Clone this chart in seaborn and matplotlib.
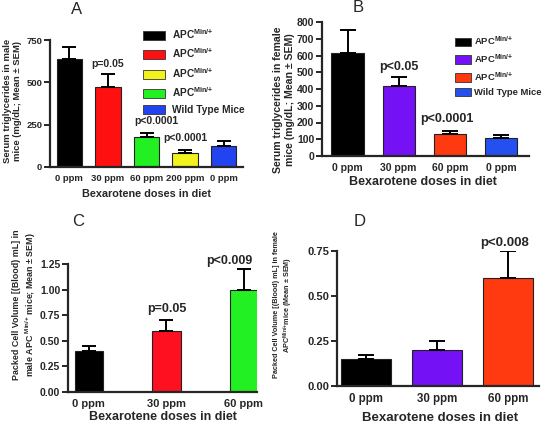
import numpy as np
import pandas as pd
import matplotlib
matplotlib.use("Agg")
import matplotlib.pyplot as plt
from matplotlib.patches import Patch
import seaborn as sns

# ---- data ----
# A: serum triglycerides, male mice
a_groups = ["APC 0", "APC 30", "APC 60", "APC 200", "WT 0"]
a_doses = ["0 ppm", "30 ppm", "60 ppm", "200 ppm", "0 ppm"]
a_mean = [637, 474, 176, 80, 125]
a_sem = [74, 73, 22, 23, 26]
a_colors = ["#000000", "#ff1010", "#22f022", "#f2f21e", "#2443f0"]

# B: serum triglycerides, female mice
b_groups = ["APC 0", "APC 30", "APC 60", "WT 0"]
b_doses = ["0 ppm", "30 ppm", "60 ppm", "0 ppm"]
b_mean = [617, 417, 130, 110]
b_sem = [138, 55, 21, 16]
b_colors = ["#000000", "#7412f5", "#ff3a10", "#2450f0"]

# C: packed cell volume, male
c_doses = ["0 ppm", "30 ppm", "60 ppm"]
c_mean = [0.40, 0.60, 1.00]
c_sem = [0.05, 0.10, 0.20]
c_colors = ["#000000", "#ff1020", "#22f022"]

# D: packed cell volume, female
d_doses = ["0 ppm", "30 ppm", "60 ppm"]
d_mean = [0.15, 0.20, 0.60]
d_sem = [0.022, 0.052, 0.15]
d_colors = ["#000000", "#7412f5", "#ff3a10"]

sns.set_theme(style="ticks")
plt.rcParams['font.family'] = ['Liberation Sans', 'DejaVu Sans']
plt.rcParams['axes.linewidth'] = 1.6
plt.rcParams['mathtext.fontset'] = 'custom'
plt.rcParams['mathtext.rm'] = 'Liberation Sans:bold'
plt.rcParams['mathtext.bf'] = 'Liberation Sans:bold'
plt.rcParams['mathtext.it'] = 'Liberation Sans:bold'

fig = plt.figure(figsize=(5.44, 4.25), dpi=100)


def px_axes(l, t, r, b):
    W, H = 544, 425
    return fig.add_axes([l / W, 1 - b / H, (r - l) / W, (b - t) / H])


def bar_panel(ax, groups, labels, mean, sem, colors, width, capsize, tsize):
    df = pd.DataFrame({"group": groups, "mean": mean})
    sns.barplot(data=df, x="group", y="mean", hue="group", order=groups,
                palette=dict(zip(groups, colors)), width=width, saturation=1,
                edgecolor="#222222", linewidth=0.8, legend=False, ax=ax)
    ax.errorbar(np.arange(len(groups)), mean, yerr=[np.zeros(len(sem)), sem],
                fmt="none", ecolor="black", elinewidth=1.4,
                capsize=capsize, capthick=1.4, zorder=1)
    ax.set_xticks(range(len(groups)))
    ax.set_xticklabels(labels, fontweight="bold", fontsize=tsize)
    for t in ax.get_yticklabels():
        t.set_fontweight("bold")
        t.set_fontsize(tsize)
    ax.tick_params(axis="x", length=0, pad=5)
    ax.tick_params(axis="y", length=4, width=1.4, pad=1.5)
    sns.despine(ax=ax)


apc = "APC$^{Min/{+}}$"

# ---- panel A ----
axA = px_axes(50, 40, 243, 167)
bar_panel(axA, a_groups, a_doses, a_mean, a_sem, a_colors, 0.66, 5, 6.8)
axA.set_ylim(0, 750)
axA.set_xlim(-0.5, 4.5)
axA.set_yticks([0, 250, 500, 750])
axA.set_ylabel("Serum triglycerides in male\nmice (mg/dL; Mean ± SEM)",
               fontsize=6.8, fontweight="bold")
axA.yaxis.set_label_coords(-0.145, 0.52)
axA.set_xlabel("Bexarotene doses in diet", fontsize=7.8, fontweight="bold")
axA.xaxis.set_label_coords(0.5, -0.17)
axA.text(1, 608, "p=0.05", ha="center", va="center", fontsize=7.5, fontweight="bold")
axA.text(2.25, 270, "p<0.0001", ha="center", va="center", fontsize=7.5, fontweight="bold")
axA.text(3.0, 170, "p<0.0001", ha="center", va="center", fontsize=7.5, fontweight="bold")
fig.text(77 / 544, 1 - 9 / 425, "A", ha="center", va="center", fontsize=12)

legA_colors = ["#000000", "#ff1010", "#f2f21e", "#22f022", "#2443f0"]
legA_labels = [apc, apc, apc, apc, "Wild Type Mice"]
hA = [Patch(facecolor=c, edgecolor="#333333", linewidth=0.6) for c in legA_colors]
fig.legend(hA, legA_labels, loc="upper left", bbox_to_anchor=(134 / 544, 1 - 18 / 425),
           frameon=False, prop={"weight": "bold", "size": 7.3},
           handlelength=2.2, handleheight=1.0, labelspacing=0.55, handletextpad=0.6)

# ---- panel B ----
axB = px_axes(322, 22, 529, 156)
bar_panel(axB, b_groups, b_doses, b_mean, b_sem, b_colors, 0.63, 6, 7.5)
axB.set_ylim(0, 800)
axB.set_xlim(-0.5, 3.55)
axB.set_yticks(range(0, 801, 100))
axB.set_ylabel("Serum triglycerides in female\nmice (mg/dL; Mean ± SEM)",
               fontsize=7.6, fontweight="bold")
axB.yaxis.set_label_coords(-0.13, 0.42)
axB.set_xlabel("Bexarotene doses in diet", fontsize=9, fontweight="bold")
axB.xaxis.set_label_coords(0.49, -0.15)
axB.text(1, 532, "p<0.05", ha="center", va="center", fontsize=9, fontweight="bold")
axB.text(1.95, 220, "p<0.0001", ha="center", va="center", fontsize=9, fontweight="bold")
fig.text(358 / 544, 1 - 8 / 425, "B", ha="center", va="center", fontsize=12)

legB_labels = [apc, apc, apc, "Wild Type Mice"]
hB = [Patch(facecolor=c, edgecolor="#333333", linewidth=0.6) for c in b_colors]
fig.legend(hB, legB_labels, loc="upper left", bbox_to_anchor=(446 / 544, 1 - 26 / 425),
           frameon=False, prop={"weight": "bold", "size": 6.8},
           handlelength=1.7, handleheight=1.0, labelspacing=0.55, handletextpad=0.35)

# ---- panel C ----
axC = px_axes(68, 264, 257, 392)
bar_panel(axC, c_doses, c_doses, c_mean, c_sem, c_colors, 0.37, 5, 8)
axC.set_ylim(0, 1.25)
axC.set_xlim(-0.27, 2.17)
axC.set_yticks([0, 0.25, 0.5, 0.75, 1.0, 1.25])
axC.set_yticklabels(["0.00", "0.25", "0.50", "0.75", "1.00", "1.25"],
                    fontweight="bold", fontsize=7.5)
axC.set_ylabel("Packed Cell Volume [(Blood) mL] in\nmale APC $^{Min/{+}}$ mice; Mean ± SEM)",
               fontsize=6.4, fontweight="bold")
axC.yaxis.set_label_coords(-0.16, 0.68)
axC.set_xlabel("Bexarotene doses in diet", fontsize=9, fontweight="bold")
axC.xaxis.set_label_coords(0.5, -0.15)
axC.text(1, 0.806, "p=0.05", ha="center", va="center", fontsize=9, fontweight="bold")
axC.text(1.81, 1.283, "p<0.009", ha="center", va="center", fontsize=9, fontweight="bold")
fig.text(78 / 544, 1 - 221 / 425, "C", ha="center", va="center", fontsize=12)

# ---- panel D ----
axD = px_axes(337, 251, 539, 386)
bar_panel(axD, d_doses, d_doses, d_mean, d_sem, d_colors, 0.71, 6, 8.3)
axD.set_ylim(0, 0.75)
axD.set_xlim(-0.415, 2.44)
axD.set_yticks([0, 0.25, 0.5, 0.75])
axD.set_yticklabels(["0.00", "0.25", "0.50", "0.75"], fontweight="bold", fontsize=8)
axD.set_ylabel("Packed Cell Volume [(Blood) mL] in female\nAPC$^{Min/{+}}$mice (Mean ± SEM)",
               fontsize=5.2, fontweight="bold")
axD.yaxis.set_label_coords(-0.21, 0.6)
axD.set_xlabel("Bexarotene doses in diet", fontsize=9.5, fontweight="bold")
axD.xaxis.set_label_coords(0.51, -0.19)
axD.text(1.95, 0.793, "p<0.008", ha="center", va="center", fontsize=9.5, fontweight="bold")
fig.text(360 / 544, 1 - 222 / 425, "D", ha="center", va="center", fontsize=12)

fig.savefig("out.png", dpi=100)
